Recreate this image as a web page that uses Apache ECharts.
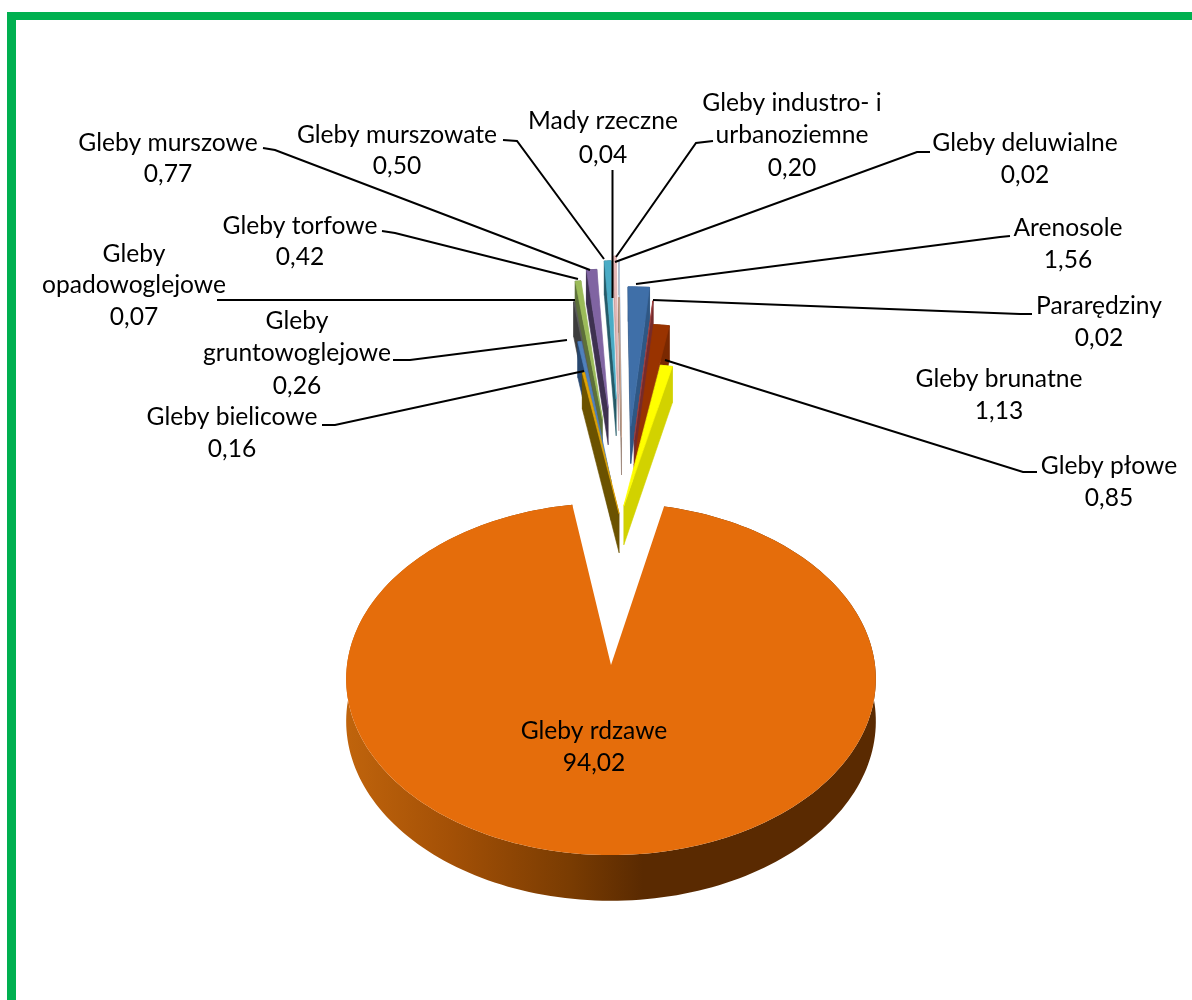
<!DOCTYPE html>
<html>
<head>
<meta charset="utf-8">
<style>html,body{margin:0;padding:0;background:#fff}#c{width:1192px;height:1000px}</style>
<script src="https://cdn.jsdelivr.net/npm/echarts@6/dist/echarts.min.js"></script>
</head>
<body>
<div id="c"></div>
<script>
// ---- data, clockwise from the left side of the notch ----
const categories = ['Gleby bielicowe','Gleby gruntowoglejowe','Gleby opadowoglejowe','Gleby torfowe','Gleby murszowe','Gleby murszowate','Gleby industro- i urbanoziemne','Mady rzeczne','Gleby deluwialne','Arenosole','Pararędziny','Gleby brunatne','Gleby płowe','Gleby rdzawe'];
const values = [0.16,0.26,0.07,0.42,0.77,0.50,0.20,0.04,0.02,1.56,0.02,1.13,0.85,94.02];
const valueLabels = ['0,16','0,26','0,07','0,42','0,77','0,50','0,20','0,04','0,02','1,56','0,02','1,13','0,85','94,02'];

// ---- style: explosion of each point, sideways nudge, colours ----
const explosion = [0.11,0.35,0.67,0.84,0.93,1.0,1.04,0.69,1.0,0.78,0.67,0.48,0.17,0];
const nudge = [0,0,0,0.01,0.01,0.01,0,0,0,0,-0.015,-0.015,-0.03,0];
const topColors = ['#E3A505','#4F81BD','#5A5A5A','#9BBB59','#8064A2','#4BACC6','#E6B9B8','#C9A58F','#B8C8DE','#3F6FA8','#9C3D3D','#993300','#FFFF00','#E56D0B'];
const sideColors = ['#6B5200','#27476F','#3C3C3C','#5D7039','#3E3150','#255A68','#C9A09F','#8E7566','#8794A6','#2F5784','#762B2B','#7A2800','#D2D200',null];
const mainSide = {type:'linear',x:0,y:0,x2:1,y2:0,colorStops:[{offset:0,color:'#C0640C'},{offset:0.2,color:'#A35006'},{offset:0.42,color:'#7A3C02'},{offset:0.56,color:'#5A2A01'},{offset:1,color:'#5A2A01'}]};

// ---- 3D view of the pie ----
const view = {x0:611,y0:665,R:264,k:175,p:0.0795,h:42,startDeg:-9.1,centerX:0.05,centerW:-0.83,tipDrop:0.1};
const project = (X,w,z) => { const s = 1/(1-view.p*w); return [view.x0+view.R*X*s, view.y0+(view.k*w+(z?view.h:0))*s]; };

// ---- label layout: centre x, line y's, leader polyline ----
const labelLayout = {
 'Gleby bielicowe':{x:232,y:[417,449],text:['Gleby bielicowe'],line:[[322,425],[335,425],[584,371]]},
 'Gleby gruntowoglejowe':{x:297,y:[321,353,386],text:['Gleby','gruntowoglejowe'],line:[[393,360],[410,360],[567,340]]},
 'Gleby opadowoglejowe':{x:134,y:[254,285,317],text:['Gleby','opadowoglejowe'],line:[[217,300],[575,300]]},
 'Gleby torfowe':{x:300,y:[226,257],text:['Gleby torfowe'],line:[[382,231],[395,233],[578,279]]},
 'Gleby murszowe':{x:168,y:[143,174],text:['Gleby murszowe'],line:[[263,148],[275,150],[590,270]]},
 'Gleby murszowate':{x:397,y:[135,166],text:['Gleby murszowate'],line:[[503,140],[517,141],[604,259]]},
 'Gleby industro- i urbanoziemne':{x:792,y:[103,135,168],text:['Gleby industro- i','urbanoziemne'],line:[[713,141],[696,143],[616,257]]},
 'Mady rzeczne':{x:603,y:[121,155],text:['Mady rzeczne'],line:[[612.5,170],[612.5,298]]},
 'Gleby deluwialne':{x:1025,y:[143,175],text:['Gleby deluwialne'],line:[[930,152],[917,152],[615,262]]},
 'Arenosole':{x:1068,y:[228,260],text:['Arenosole'],line:[[1010,236],[1000,237],[636,284]]},
 'Pararędziny':{x:1099,y:[306,338],text:['Pararędziny'],line:[[1032,314],[1020,314],[653,300]]},
 'Gleby brunatne':{x:999,y:[379,411],text:['Gleby brunatne'],line:null},
 'Gleby płowe':{x:1109,y:[466,498],text:['Gleby płowe'],line:[[1037,472],[1023,472],[665,360]]},
 'Gleby rdzawe':{x:594,y:[731,763],text:['Gleby rdzawe'],line:null}
};

const total = values.reduce((a,b)=>a+b,0);
const rad = d => d*Math.PI/180;
const spans = []; let acc = view.startDeg;
values.forEach(v => { const a = v/total*360; spans.push([acc,acc+a]); acc += a; });
const mainIndex = values.length-1;

function sliceParts(i){
  const [a0,a1] = spans[i];
  const mid = (a0+a1)/2, e = explosion[i];
  const ax = i===mainIndex ? 0 : view.centerX+e*Math.sin(rad(mid))+nudge[i];
  const aw = i===mainIndex ? 0 : view.centerW-e*Math.cos(rad(mid));
  const tw = aw+view.tipDrop*e;
  const n = Math.max(3,Math.ceil((a1-a0)/1.5));
  const top=[],bot=[];
  for(let j=0;j<=n;j++){
    const t = rad(a0+(a1-a0)*j/n);
    const X = ax+Math.sin(t), W = aw-Math.cos(t);
    top.push(project(X,W,false)); bot.push(project(X,W,true));
  }
  const A = project(ax,tw,false), A2 = project(ax,tw,true);
  const M = top[Math.floor(n/2)];
  const side = (P,Q,R)=>(Q[0]-P[0])*(R[1]-P[1])-(Q[1]-P[1])*(R[0]-P[0]);
  const faces=[];
  [0,n].forEach(j=>{
    if(side(A,top[j],M)*side(A,top[j],A2)<0) faces.push([A,top[j],bot[j],A2]);
  });
  return {top:[A].concat(top),rim:top.concat(bot.slice().reverse()),faces};
}

// painter's order: most exploded (farthest) first, main slice last
const drawOrder = values.map((_,i)=>i).sort((a,b)=> explosion[b]-explosion[a]);
const rank = {}; drawOrder.forEach((i,r)=>rank[i]=r);

function renderSlice(params,api){
  const i = api.value(0), parts = sliceParts(i), z = rank[i]*3+1;
  const sideFill = i===mainIndex ? mainSide : sideColors[i];
  const ch = [];
  const sStyle = {fill:sideFill,stroke:i===mainIndex?null:sideColors[i],lineWidth:i===mainIndex?0:0.6};
  ch.push({type:'polygon',z2:z,shape:{points:parts.rim},style:sStyle});
  parts.faces.forEach(f=>ch.push({type:'polygon',z2:z+1,shape:{points:f},style:{fill:i===mainIndex?'#5A2A01':sideColors[i],stroke:i===mainIndex?null:sideColors[i],lineWidth:i===mainIndex?0:0.6}}));
  ch.push({type:'polygon',z2:z+2,shape:{points:parts.top},style:{fill:topColors[i],stroke:i===mainIndex?null:topColors[i],lineWidth:i===mainIndex?0:0.7}});
  return {type:'group',children:ch};
}
function renderLabel(params,api){
  const i = api.value(0), L = labelLayout[categories[i]], ch=[];
  const lines = L.text.concat([valueLabels[i]]);
  lines.forEach((t,j)=>ch.push({type:'text',z2:200,style:{text:t,x:L.x,y:L.y[j],align:'center',verticalAlign:'middle',fill:'#000',font:'24.6px Lato'}}));
  if(L.line) ch.push({type:'polyline',z2:150,shape:{points:L.line},style:{fill:null,stroke:'#000',lineWidth:2}});
  return {type:'group',children:ch};
}

const chart = echarts.init(document.getElementById('c'),null,{renderer:'canvas'});
chart.setOption({
  animation:false,
  backgroundColor:'#fff',
  tooltip:{show:false},
  graphic:[
    {type:'rect',shape:{x:7,y:12,width:1185,height:8},style:{fill:'#00B050'},silent:true},
    {type:'rect',shape:{x:7,y:12,width:9,height:988},style:{fill:'#00B050'},silent:true}
  ],
  series:[
    {type:'custom',coordinateSystem:'none',silent:true,z:2,renderItem:renderSlice,
     data:values.map((v,i)=>[i,v])},
    {type:'custom',coordinateSystem:'none',silent:true,z:3,renderItem:renderLabel,
     data:values.map((v,i)=>[i,v])}
  ]
});
</script>
</body>
</html>
